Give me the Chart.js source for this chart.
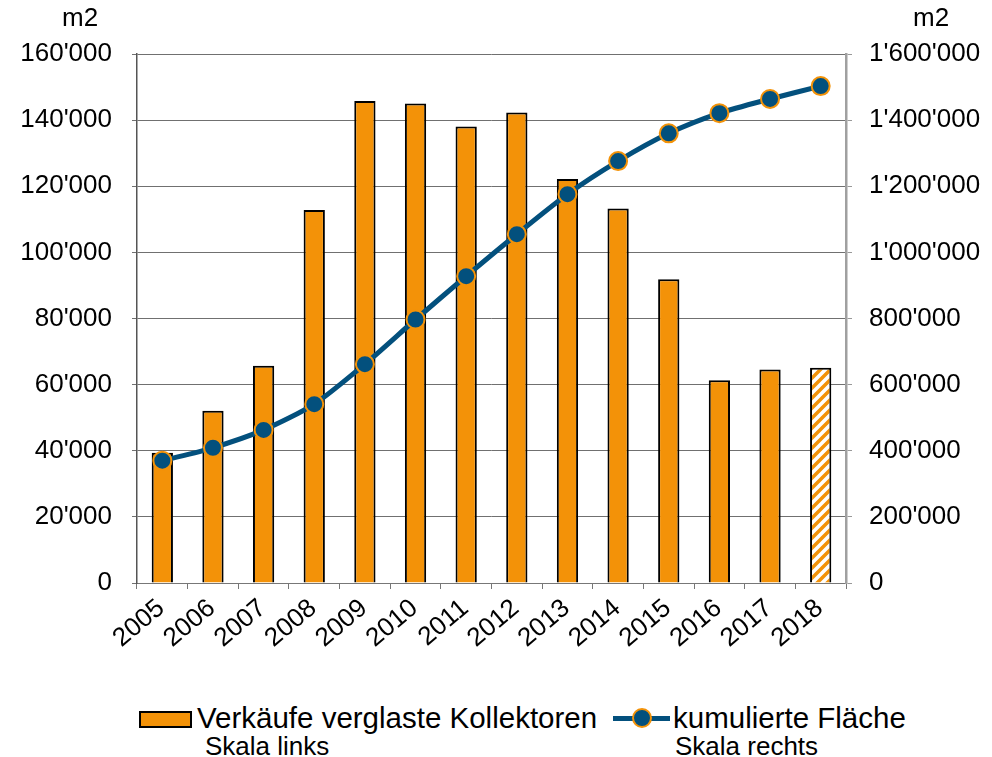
<!DOCTYPE html>
<html>
<head>
<meta charset="utf-8">
<script src="https://cdn.jsdelivr.net/npm/chart.js@4/dist/chart.umd.min.js"></script>
<style>
  html, body { margin: 0; padding: 0; background: #fff; }
  body { width: 992px; height: 757px; position: relative; overflow: hidden; font-family: 'Liberation Sans', Arial, sans-serif; }
  #wrap { position: absolute; left: 0; top: 0; width: 992px; height: 690px; }
  .unit { position: absolute; top: 4px; font-size: 26px; line-height: 26px; color: #000; }
  .lg { position: absolute; color: #000; white-space: nowrap; }
</style>
</head>
<body>
<div id="wrap"><canvas id="myChart" width="992" height="690"></canvas></div>
<div class="unit" style="left:62px">m2</div>
<div class="unit" style="left:913px">m2</div>

<div style="position:absolute;left:139px;top:711px;width:53px;height:17px;background:#F39208;border:2px solid #000;box-sizing:border-box"></div>
<div class="lg" style="left:197px;top:703px;font-size:29.5px;line-height:29px">Verkäufe verglaste Kollektoren</div>
<div class="lg" style="left:205px;top:733px;font-size:26px;line-height:26px">Skala links</div>

<div style="position:absolute;left:613px;top:716px;width:57px;height:5px;background:#03507D"></div>
<div style="position:absolute;left:632px;top:708px;width:20px;height:20px;border-radius:50%;background:#03507D;border:2px solid #F39208;box-sizing:border-box"></div>
<div class="lg" style="left:673px;top:703px;font-size:29.5px;line-height:29px">kumulierte Fläche</div>
<div class="lg" style="left:675px;top:733px;font-size:26px;line-height:26px">Skala rechts</div>

<script>
var years = ['2005', '2006', '2007', '2008', '2009', '2010', '2011', '2012', '2013', '2014', '2015', '2016', '2017', '2018'];
var verkaeufe = [39400, 52100, 65700, 112800, 145800, 145000, 138100, 142300, 122200, 113300, 91900, 61300, 64600, 65100];
var kumuliert = [370000, 409000, 463000, 541000, 662000, 797000, 928000, 1055000, 1176000, 1276000, 1360000, 1421000, 1464000, 1503000];
var leftTicks = [0, 20000, 40000, 60000, 80000, 100000, 120000, 140000, 160000];
var rightTicks = [0, 200000, 400000, 600000, 800000, 1000000, 1200000, 1400000, 1600000];

var orange = '#F39208';
var blue = '#03507D';
var font = "'Liberation Sans', Arial, sans-serif";

function fmt(v) {
    return String(v).replace(/\B(?=(\d{3})+(?!\d))/g, "'");
}

// hatched fill for the last (provisional) year
function hatch() {
    var c = document.createElement('canvas');
    c.width = 10; c.height = 10;
    var x = c.getContext('2d');
    x.fillStyle = '#fff';
    x.fillRect(0, 0, 10, 10);
    x.strokeStyle = orange;
    x.lineWidth = 3.5;
    x.beginPath();
    x.moveTo(-2, 12); x.lineTo(12, -2);
    x.moveTo(-7, 7); x.lineTo(7, -7);
    x.moveTo(3, 17); x.lineTo(17, 3);
    x.stroke();
    return x.createPattern(c, 'repeat');
}

var barColors = verkaeufe.map(function (v, i) {
    return i === verkaeufe.length - 1 ? hatch() : orange;
});

var ctx = document.getElementById('myChart').getContext('2d');
var myChart = new Chart(ctx, {
    data: {
        labels: years,
        datasets: [
            {
                type: 'line',
                label: 'kumulierte Fläche',
                data: kumuliert,
                yAxisID: 'y2',
                borderColor: blue,
                borderWidth: 5,
                tension: 0.25,
                pointRadius: 9,
                pointBackgroundColor: blue,
                pointBorderColor: orange,
                pointBorderWidth: 2,
                order: 0
            },
            {
                type: 'bar',
                label: 'Verkäufe verglaste Kollektoren',
                data: verkaeufe,
                yAxisID: 'y',
                backgroundColor: barColors,
                borderColor: '#000',
                borderWidth: 2,
                categoryPercentage: 1,
                barPercentage: 0.42,
                order: 1
            }
        ]
    },
    options: {
        responsive: false,
        animation: false,
        layout: { padding: { top: 54, left: 0, right: 0, bottom: 0 } },
        plugins: { legend: { display: false }, tooltip: { enabled: false } },
        scales: {
            x: {
                offset: true,
                grid: { offset: true, drawOnChartArea: false, drawTicks: true, tickLength: 6, color: '#777', lineWidth: 1 },
                border: { color: '#777', width: 1 },
                ticks: { color: '#000', font: { family: font, size: 26 }, minRotation: 40, maxRotation: 40, padding: 4, labelOffset: -1, autoSkip: false },
                afterFit: function (s) { s.height = 107; }
            },
            y: {
                position: 'left',
                min: 0, max: 160000,
                afterBuildTicks: function (s) { s.ticks = leftTicks.map(function (v) { return { value: v }; }); },
                grid: { color: '#707070', lineWidth: 1, tickLength: 5 },
                border: { color: '#555', width: 1.5 },
                ticks: { color: '#000', font: { family: font, size: 26 }, padding: 20, callback: function (v) { return fmt(v); } },
                afterFit: function (s) { s.width = 137; }
            },
            y2: {
                position: 'right',
                min: 0, max: 1600000,
                afterBuildTicks: function (s) { s.ticks = rightTicks.map(function (v) { return { value: v }; }); },
                grid: { drawOnChartArea: false, color: '#999', tickLength: 6 },
                border: { color: '#a0a0a0', width: 2.5 },
                ticks: { color: '#000', font: { family: font, size: 26 }, padding: 17, callback: function (v) { return fmt(v); } },
                afterFit: function (s) { s.width = 146; }
            }
        }
    }
});
</script>
</body>
</html>
